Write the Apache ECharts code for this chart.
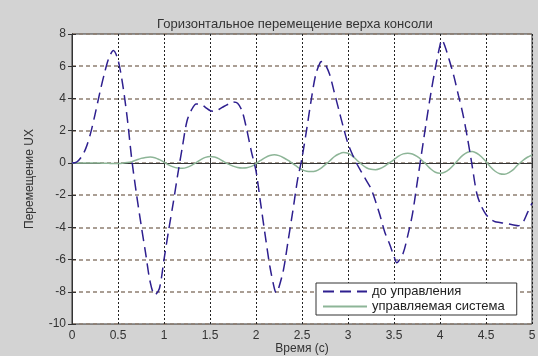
<!DOCTYPE html>
<html>
<head>
<meta charset="utf-8">
<script src="https://cdn.jsdelivr.net/npm/echarts@6/dist/echarts.min.js"></script>
<style>
html,body{margin:0;padding:0;background:#d3d3d3;}
#chart{width:538px;height:356px;}
</style>
</head>
<body>
<div id="chart"></div>
<script>
const chartTitle = 'Горизонтальное перемещение верха консоли';
const xName = 'Время (с)';
const yName = 'Перемещение UX';
const seriesNames = ['до управления', 'управляемая система'];
const xTicks = [0, 0.5, 1, 1.5, 2, 2.5, 3, 3.5, 4, 4.5, 5];
const yTicks = [-10, -8, -6, -4, -2, 0, 2, 4, 6, 8];

const beforeTimes = [0,0.05,0.1,0.15,0.2,0.25,0.3,0.35,0.4,0.45,0.5,0.55,0.6,0.65,0.7,0.75,0.8,0.85,0.9,0.95,
  1.0,1.05,1.1,1.15,1.2,1.25,1.3,1.35,1.4,1.45,1.5,1.55,1.6,1.65,1.7,1.75,1.8,1.85,1.9,1.95,
  2.0,2.05,2.1,2.15,2.2,2.22,2.25,2.3,2.35,2.4,2.45,2.5,2.55,2.6,2.65,2.7,2.72,2.75,2.8,2.85,2.9,2.95,
  3.0,3.05,3.1,3.15,3.2,3.25,3.3,3.35,3.4,3.45,3.5,3.53,3.55,3.6,3.65,3.7,3.75,3.8,3.85,3.9,3.95,
  4.0,4.02,4.05,4.1,4.15,4.2,4.25,4.3,4.35,4.4,4.45,4.5,4.55,4.6,4.65,4.7,4.75,4.8,4.85,4.9,4.95,5.0];
const beforeValues = [0,0.05,0.35,0.9,1.8,3.0,4.3,5.5,6.5,6.97,6.4,4.9,2.8,0.2,-1.9,-3.8,-5.6,-7.4,-8.2,-7.8,
  -6.0,-4.2,-2.5,-0.7,1.0,2.6,3.3,3.65,3.65,3.45,3.25,3.2,3.33,3.5,3.65,3.78,3.7,3.2,2.05,0.7,
  -0.5,-2.5,-4.5,-6.4,-7.8,-8.07,-7.7,-6.6,-4.8,-3.0,-1.1,0.3,2.05,3.9,5.5,6.25,6.3,6.15,5.5,4.4,3.3,2.2,
  1.2,0.5,-0.1,-0.6,-1.1,-1.6,-2.4,-3.3,-4.3,-5.0,-5.8,-6.2,-6.1,-5.6,-4.5,-3.2,-1.3,0.6,2.5,4.3,5.9,
  7.3,7.64,7.3,6.4,5.4,4.2,3.0,1.5,-0.2,-1.9,-2.7,-3.2,-3.5,-3.65,-3.7,-3.75,-3.8,-3.85,-3.9,-3.7,-3.1,-2.5];

const controlledTimes = [0,0.05,0.1,0.15,0.2,0.25,0.3,0.35,0.4,0.45,0.5,0.55,0.6,0.65,0.7,0.75,0.8,0.85,0.9,0.95,
  1.0,1.05,1.1,1.15,1.2,1.25,1.3,1.35,1.4,1.45,1.5,1.55,1.6,1.65,1.7,1.75,1.8,1.85,1.9,1.95,
  2.0,2.05,2.1,2.15,2.2,2.25,2.3,2.35,2.4,2.45,2.5,2.55,2.6,2.65,2.7,2.75,2.8,2.85,2.9,2.95,
  3.0,3.05,3.1,3.15,3.2,3.25,3.3,3.35,3.4,3.45,3.5,3.55,3.6,3.65,3.7,3.75,3.8,3.85,3.9,3.95,
  4.0,4.05,4.1,4.15,4.2,4.25,4.3,4.35,4.4,4.45,4.5,4.55,4.6,4.65,4.7,4.75,4.8,4.85,4.9,4.95,5.0];
const controlledValues = [0,0,0,0,0,0,-0.01,-0.02,-0.03,-0.04,-0.04,-0.02,0.02,0.08,0.18,0.28,0.34,0.36,0.32,0.2,
  0.05,-0.12,-0.25,-0.32,-0.34,-0.28,-0.15,0.02,0.2,0.34,0.4,0.36,0.25,0.08,-0.08,-0.2,-0.28,-0.31,-0.3,-0.22,
  -0.05,0.15,0.33,0.46,0.51,0.45,0.32,0.15,-0.05,-0.25,-0.42,-0.52,-0.54,-0.5,-0.35,-0.12,0.12,0.38,0.55,0.65,
  0.6,0.42,0.15,-0.1,-0.3,-0.4,-0.42,-0.35,-0.2,0.0,0.2,0.42,0.56,0.6,0.55,0.4,0.18,-0.1,-0.38,-0.58,
  -0.64,-0.58,-0.4,-0.12,0.2,0.48,0.66,0.7,0.6,0.38,0.08,-0.25,-0.52,-0.67,-0.7,-0.6,-0.4,-0.1,0.15,0.35,0.5];

const blueData = beforeTimes.map((t, i) => [t, beforeValues[i]]);
const greenData = controlledTimes.map((t, i) => [t, controlledValues[i]]);

const FONT = '"Liberation Sans", Arial, sans-serif';
const chart = echarts.init(document.getElementById('chart'));
const xMin = xTicks[0], xMax = xTicks[xTicks.length-1];
const yMin = yTicks[0], yMax = yTicks[yTicks.length-1];

chart.setOption({
  backgroundColor: '#d3d3d3',
  animation: false,
  title: {
    text: chartTitle,
    left: 152, top: 13,
    textStyle: {fontFamily: FONT, fontSize: 13, fontWeight: 'normal', color: '#333'}
  },
  legend: {
    orient: 'vertical',
    left: 316, top: 283,
    backgroundColor: '#fff',
    borderColor: '#333', borderWidth: 1,
    borderRadius: 0,
    padding: [2, 12, 2, 6],
    itemGap: 2,
    itemWidth: 44, itemHeight: 13,
    itemStyle: {opacity: 0},
    textStyle: {fontFamily: FONT, fontSize: 13, color: '#222', padding: [0, 0, 0, 0]},
    data: seriesNames
  },
  grid: {left: 72, right: 6, top: 34, bottom: 32, outerBoundsMode: 'none', show: true, backgroundColor: '#fff', borderColor: '#333', borderWidth: 1},
  xAxis: [{
    type: 'value', min: xMin, max: xMax, interval: 0.5,
    name: xName, nameLocation: 'middle', nameGap: 18, nameMoveOverlap: false,
    nameTextStyle: {fontFamily: FONT, fontSize: 12, color: '#333', verticalAlign: 'top', lineHeight: 13},
    axisLine: {show: true, lineStyle: {color: '#333'}},
    axisTick: {show: true, inside: true, length: 4, lineStyle: {color: '#333'}},
    axisLabel: {fontFamily: FONT, fontSize: 12, color: '#333', margin: 6},
    splitLine: {show: true, lineStyle: {color: '#222', type: [2, 2], width: 1}}
  }, {
    type: 'value', min: xMin, max: xMax, interval: 0.5, position: 'top',
    axisLine: {show: true, lineStyle: {color: '#333'}},
    axisTick: {show: true, inside: true, length: 4, lineStyle: {color: '#333'}},
    axisLabel: {show: false}, splitLine: {show: false}
  }],
  yAxis: [{
    type: 'value', min: yMin, max: yMax, interval: 2,
    name: yName, nameLocation: 'middle', nameGap: 36, nameRotate: 90, nameMoveOverlap: false,
    nameTextStyle: {fontFamily: FONT, fontSize: 12, color: '#333'},
    axisLine: {show: true, lineStyle: {color: '#333'}},
    axisTick: {show: true, inside: true, length: 4, lineStyle: {color: '#333'}},
    axisLabel: {fontFamily: FONT, fontSize: 12, color: '#333', margin: 6},
    splitLine: {show: true, lineStyle: {color: '#8f7f72', type: [4, 3], width: 1.5}}
  }, {
    type: 'value', min: yMin, max: yMax, interval: 2, position: 'right',
    axisLine: {show: true, lineStyle: {color: '#333'}},
    axisTick: {show: true, inside: true, length: 4, lineStyle: {color: '#333'}},
    axisLabel: {show: false}, splitLine: {show: false}
  }],
  series: [{
    name: seriesNames[0], type: 'line', data: blueData,
    showSymbol: false, symbol: 'none', smooth: 0.3,
    lineStyle: {color: '#2e1f8f', width: 1.5, type: [11, 6]},
    itemStyle: {color: '#2e1f8f'}, z: 3
  }, {
    name: seriesNames[1], type: 'line', data: greenData,
    showSymbol: false, symbol: 'none', smooth: 0.3,
    lineStyle: {color: '#8db597', width: 1.5},
    itemStyle: {color: '#8db597'}, z: 2
  }]
});
</script>
</body>
</html>
